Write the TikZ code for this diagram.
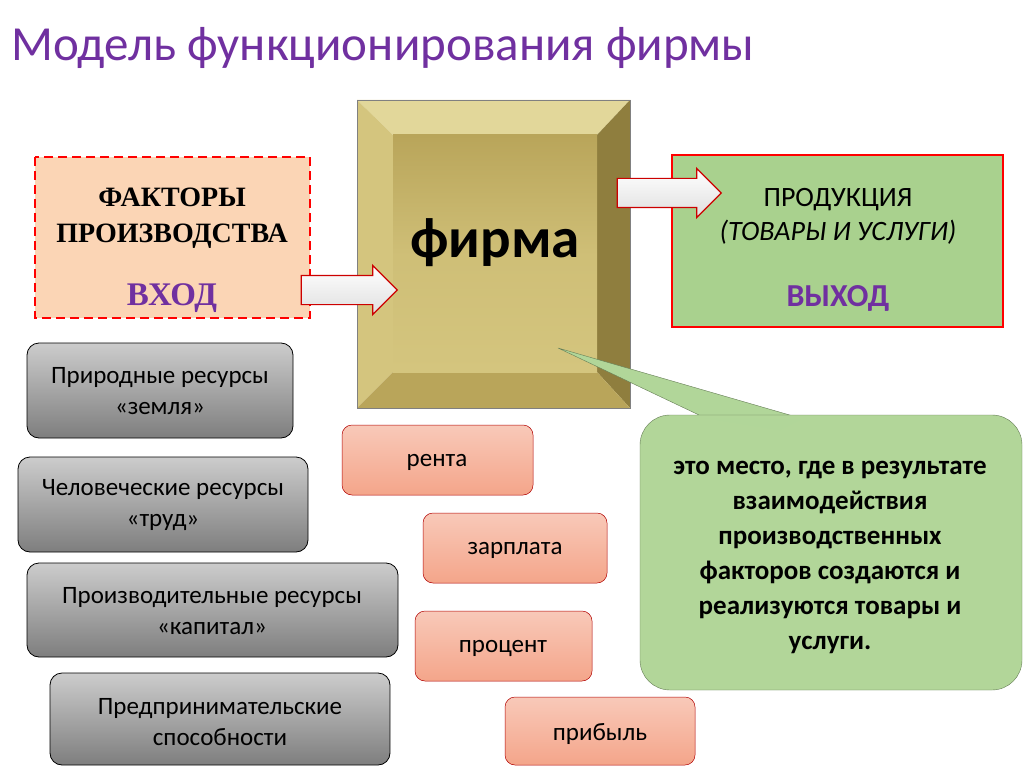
\documentclass[tikz,border=0pt]{standalone}
\usepackage{fontspec}
\setmainfont{Carlito}
\newfontfamily\serifru{Liberation Serif}
\usetikzlibrary{shapes.arrows}
\definecolor{ttl}{HTML}{7030A0}
\definecolor{peach}{HTML}{FBD5B5}
\definecolor{grn}{HTML}{A9D18E}
\definecolor{gry}{HTML}{8C8C8C}
\definecolor{salm}{HTML}{F4A58A}
\definecolor{gA}{HTML}{E2D79A}
\definecolor{gB}{HTML}{B9A55A}
\definecolor{gC}{HTML}{8F7E3E}
\definecolor{gD}{HTML}{D4C57E}
\begin{document}
\begin{tikzpicture}[x=1pt,y=-1pt,
 graybox/.style={draw=black,rounded corners=12pt,top color=gray!40,bottom color=gry!90!black,line width=0.8pt},
 salbox/.style={draw=red!70!black,rounded corners=10pt,top color=salm!60,bottom color=salm,line width=0.5pt},
 blk/.style={single arrow,draw=red!80!black,line width=1.2pt,top color=white,bottom color=gray!25,minimum height=96pt,inner sep=14pt,single arrow head extend=10pt,single arrow head indent=0pt},
 lbl/.style={font=\fontsize{25}{31}\selectfont,align=center}]
\useasboundingbox (0,0) rectangle (1024,767);
\fill[white] (0,0) rectangle (1024,767);
\node[anchor=west,text=ttl,font=\fontsize{49}{56}\selectfont] (title) at (8,48) {Модель функционирования фирмы};
% left box
\draw[red,dash pattern=on 9pt off 5pt,line width=2pt,fill=peach] (35,157) rectangle (310,318);
\node[font=\serifru\bfseries\fontsize{28}{36}\selectfont,align=center] (fp) at (172,218) {ФАКТОРЫ\\ПРОИЗВОДСТВА};
\node[font=\serifru\bfseries\fontsize{33}{36}\selectfont,text=ttl] (vh) at (172,298) {ВХОД};
% firm bevel
\fill[gA] (357,100) -- (630,100) -- (597,135) -- (393,135) -- cycle;
\fill[gC] (630,100) -- (630,408) -- (597,372) -- (597,135) -- cycle;
\fill[gD] (357,100) -- (393,135) -- (393,372) -- (357,408) -- cycle;
\fill[gB] (357,408) -- (630,408) -- (597,372) -- (393,372) -- cycle;
\shade[top color=gB,bottom color=gD,middle color=gD!80!gB] (393,135) rectangle (597,372);
\draw[gray] (357,100) rectangle (630,408);
\node[font=\bfseries\fontsize{57}{60}\selectfont] (firm) at (495,243) {фирма};
% right box
\draw[red,line width=2pt,fill=grn] (672,155) rectangle (1003,327);
\node[lbl,font=\fontsize{28}{34}\selectfont] (prod) at (838,216) {ПРОДУКЦИЯ\\\textit{(ТОВАРЫ И УСЛУГИ)}};
\node[font=\bfseries\fontsize{32}{36}\selectfont,text=ttl] (vyh) at (838,298) {ВЫХОД};
% arrows
\node[blk] (a1) at (342,290) {};
\node[blk,minimum height=104pt] (a2) at (662,193) {};
% callout
\fill[grn!90!white,draw=grn!60!black] (558,348) -- (800,418) -- (720,425) -- cycle;
\draw[grn!60!black,fill=grn!90!white,rounded corners=30pt] (640,415) rectangle (1022,690);
\fill[grn!90!white] (705,418) -- (800,419.5) -- (780,430) -- cycle;
\node[lbl,font=\bfseries\fontsize{27}{35}\selectfont] (call) at (830,557) {это место, где в результате\\взаимодействия\\производственных\\факторов создаются и\\реализуются товары и\\услуги.};
% gray boxes
\draw[graybox] (27,343) rectangle (293,438); \node[lbl] (g1) at (160,391) {Природные ресурсы\\«земля»};
\draw[graybox] (18,457) rectangle (308,552); \node[lbl] (g2) at (163,505) {Человеческие ресурсы\\«труд»};
\draw[graybox] (27,563) rectangle (398,657); \node[lbl] (g3) at (212,611) {Производительные ресурсы\\«капитал»};
\draw[graybox] (50,673) rectangle (390,765); \node[lbl] (g4) at (220,722) {Предпринимательские\\способности};
% salmon boxes
\draw[salbox] (342,425) rectangle (533,495); \node[lbl] (s1) at (437,462) {рента};
\draw[salbox] (423,513) rectangle (607,583); \node[lbl] (s2) at (515,550) {зарплата};
\draw[salbox] (415,611) rectangle (592,681); \node[lbl] (s3) at (503,648) {процент};
\draw[salbox] (505,697) rectangle (695,765); \node[lbl] (s4) at (600,734) {прибыль};
\end{tikzpicture}
\end{document}
